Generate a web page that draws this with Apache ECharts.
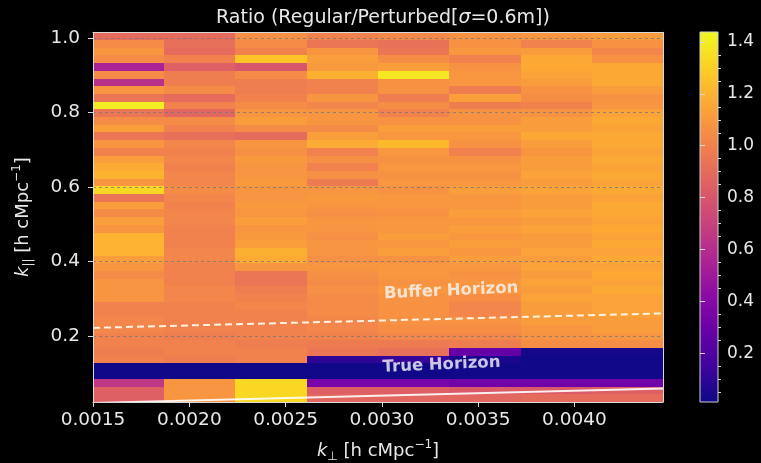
<!DOCTYPE html>
<html>
<head>
<meta charset="utf-8">
<script src="https://cdn.jsdelivr.net/npm/echarts@6/dist/echarts.min.js"></script>
<style>
  html, body { margin: 0; padding: 0; background: #000; }
  #chart { width: 761px; height: 463px; }
</style>
</head>
<body>
<div id="chart"></div>
<script>
// k_perp bin edges (8 columns) and k_parallel binning (48 rows)
const kPerpEdges = [0.0015, 0.00187, 0.00224, 0.00261, 0.00298, 0.00335, 0.00372, 0.00409, 0.00446];
const kParFirstEdge = 0.0225;
const kParBinWidth = 0.0207;
const kParBinCount = 48;

// Ratio per k_perp column, listed from the lowest k_parallel bin upwards
const ratioCol1 = [0.85, 0.85, 0.65, 0.02, 0.02, 1.00, 0.98, 1.00, 1.00, 1.02, 1.02, 1.00, 1.00, 1.08, 1.08, 1.08,
                   1.04, 1.08, 1.12, 1.20, 1.20, 1.20, 1.08, 1.12, 1.04, 1.12, 0.95, 1.33, 1.08, 1.20, 1.17, 1.12,
                   1.00, 1.08, 0.95, 1.12, 1.04, 0.95, 1.40, 0.95, 1.08, 0.62, 1.04, 0.55, 1.04, 1.08, 1.04, 0.90];
const ratioCol2 = [1.08, 1.08, 1.08, 0.02, 0.02, 0.98, 1.00, 1.00, 0.98, 1.00, 1.00, 1.00, 1.00, 1.02, 1.02, 1.00,
                   1.00, 1.00, 1.02, 1.02, 1.00, 1.00, 1.00, 1.02, 1.02, 1.00, 1.02, 1.04, 1.02, 1.02, 1.00, 1.02,
                   1.00, 1.02, 0.92, 1.00, 1.04, 0.88, 1.00, 0.90, 1.04, 0.98, 0.98, 0.85, 1.00, 0.90, 0.92, 0.90];
const ratioCol3 = [1.33, 1.33, 1.33, 0.02, 0.02, 1.00, 1.00, 0.98, 1.00, 1.00, 1.00, 1.00, 1.02, 1.00, 0.98, 0.95,
                   0.95, 1.08, 1.17, 1.19, 1.12, 1.10, 1.08, 1.12, 1.08, 1.10, 1.08, 1.08, 1.10, 1.08, 1.08, 1.10,
                   1.06, 1.08, 0.90, 1.04, 1.12, 1.08, 1.04, 1.00, 0.98, 0.98, 1.04, 0.80, 1.26, 1.00, 1.04, 1.06];
const ratioCol4 = [0.88, 0.85, 0.35, 0.02, 0.02, 0.10, 0.95, 0.97, 1.00, 1.02, 1.02, 1.04, 1.04, 1.04, 1.06, 1.04,
                   1.06, 1.08, 1.06, 1.08, 1.08, 1.06, 1.08, 1.08, 1.06, 1.08, 1.10, 1.08, 0.97, 1.06, 1.00, 1.06,
                   1.00, 1.17, 1.12, 1.04, 1.08, 1.08, 1.02, 1.08, 1.00, 1.00, 1.19, 1.10, 1.12, 1.08, 0.95, 1.00];
const ratioCol5 = [0.88, 0.85, 0.35, 0.02, 0.02, 0.12, 0.92, 0.97, 1.02, 1.05, 1.07, 1.07, 1.07, 1.07, 1.09, 1.07,
                   1.09, 1.09, 1.07, 1.12, 1.09, 1.12, 1.09, 1.09, 1.07, 1.09, 1.09, 1.07, 1.09, 1.07, 1.09, 1.07,
                   1.09, 1.22, 1.09, 1.12, 1.07, 1.00, 1.05, 0.98, 1.07, 1.07, 1.38, 1.12, 1.05, 0.95, 0.93, 1.03];
const ratioCol6 = [0.88, 0.82, 0.32, 0.02, 0.02, 0.05, 0.28, 0.98, 1.02, 1.05, 1.07, 1.02, 1.02, 1.05, 1.09, 1.09,
                   1.07, 1.09, 1.12, 1.09, 1.12, 1.09, 1.12, 1.09, 1.12, 1.09, 1.09, 1.12, 1.09, 1.07, 1.09, 1.07,
                   1.00, 1.07, 1.09, 1.12, 1.07, 1.07, 0.98, 1.12, 0.98, 1.09, 1.09, 1.07, 1.00, 1.09, 1.07, 1.07];
const ratioCol7 = [0.90, 0.82, 0.32, 0.02, 0.02, 0.02, 0.03, 1.05, 1.07, 1.08, 1.11, 1.11, 1.11, 1.14, 1.11, 1.14,
                   1.11, 1.14, 1.11, 1.14, 1.11, 1.11, 1.14, 1.11, 1.14, 1.11, 1.11, 1.14, 1.11, 1.14, 1.11, 1.11,
                   1.08, 1.11, 1.16, 1.11, 1.11, 1.07, 1.00, 1.05, 1.07, 1.11, 1.14, 1.16, 1.16, 1.11, 1.00, 1.08];
const ratioCol8 = [0.90, 0.85, 0.32, 0.02, 0.02, 0.02, 0.03, 1.05, 1.08, 1.11, 1.11, 1.14, 1.14, 1.14, 1.16, 1.14,
                   1.16, 1.14, 1.16, 1.14, 1.16, 1.14, 1.16, 1.14, 1.16, 1.16, 1.14, 1.16, 1.14, 1.16, 1.14, 1.16,
                   1.14, 1.16, 1.16, 1.14, 1.16, 1.14, 1.08, 1.07, 1.11, 1.16, 1.16, 1.16, 1.07, 1.02, 1.07, 1.11];
const ratioColumns = [ratioCol1, ratioCol2, ratioCol3, ratioCol4, ratioCol5, ratioCol6, ratioCol7, ratioCol8];

// Axis ticks
const xTicks = [0.0015, 0.0020, 0.0025, 0.0030, 0.0035, 0.0040];
const yTicks = [0.2, 0.4, 0.6, 0.8, 1.0];
const cbarTicks = [0.2, 0.4, 0.6, 0.8, 1.0, 1.2, 1.4];
const cbarMinorTicks = [0.05, 0.1, 0.15, 0.25, 0.3, 0.35, 0.45, 0.5, 0.55, 0.65, 0.7, 0.75,
                        0.85, 0.9, 0.95, 1.05, 1.1, 1.15, 1.25, 1.3, 1.35];
const colorMin = 0.012;
const colorMax = 1.4385;

// Horizon lines: [k_perp, k_parallel] end points
const trueHorizon = [[0.0015, 0.0197], [0.00446, 0.0587]];
const bufferHorizon = [[0.0015, 0.2215], [0.00446, 0.2605]];
const trueHorizonLabelAt = [0.00331, 0.1218];
const bufferHorizonLabelAt = [0.00336, 0.3207];

// matplotlib "plasma"
const plasma = ['#0d0887', '#41049d', '#6a00a8', '#8f0da4', '#b12a90', '#cc4778',
                '#e16462', '#f2844b', '#fca636', '#fcce25', '#f0f921'];

const kParEdges = [];
for (let i = 0; i <= kParBinCount; i++) kParEdges.push(+(kParFirstEdge + i * kParBinWidth).toFixed(5));

const cells = [];
ratioColumns.forEach((col, c) => {
  col.forEach((v, r) => {
    cells.push([kPerpEdges[c], kPerpEdges[c + 1], kParEdges[r], kParEdges[r + 1], v]);
  });
});

const textColor = '#e8e8e8';
const FONT = 'DejaVu Sans';
const spine = { show: true, onZero: false, lineStyle: { color: '#d8d8d8', width: 1 } };
const nameRich = {
  n: { fontFamily: FONT, fontSize: 18, color: textColor, lineHeight: 24 },
  i: { fontFamily: FONT, fontSize: 18, color: textColor, fontStyle: 'italic', lineHeight: 24 },
  sub: { fontFamily: FONT, fontSize: 12, color: textColor, verticalAlign: 'bottom', lineHeight: 12 },
  sup: { fontFamily: FONT, fontSize: 12, color: textColor, verticalAlign: 'top', lineHeight: 12 }
};

const chart = echarts.init(document.getElementById('chart'));
chart.setOption({
  backgroundColor: '#000',
  animation: false,
  textStyle: { fontFamily: FONT },
  title: {
    text: '{n|Ratio (Regular/Perturbed[}{i|σ}{n|=0.6m])}',
    left: 378,
    textAlign: 'center',
    top: 4,
    textStyle: {
      fontWeight: 'normal',
      rich: {
        n: { fontFamily: FONT, fontSize: 19, color: textColor, fontWeight: 'normal' },
        i: { fontFamily: FONT, fontSize: 19, color: textColor, fontWeight: 'normal', fontStyle: 'italic' }
      }
    }
  },
  grid: [
    { left: 93, top: 32.3, width: 570, height: 369.6, outerBoundsMode: 'none' },
    { left: 700, top: 32, width: 18, height: 370, outerBoundsMode: 'none' }
  ],
  visualMap: {
    show: false,
    type: 'continuous',
    seriesIndex: 0,
    dimension: 4,
    min: colorMin,
    max: colorMax,
    inRange: { color: plasma }
  },
  xAxis: [
    {
      type: 'value', gridIndex: 0, min: kPerpEdges[0], max: kPerpEdges[kPerpEdges.length - 1], z: 10,
      axisLine: spine,
      axisTick: { show: true, customValues: xTicks, length: 5, lineStyle: { color: '#d8d8d8' } },
      axisLabel: { customValues: xTicks, formatter: v => v.toFixed(4), color: textColor, fontSize: 18.5, margin: 9 },
      splitLine: { show: false },
      name: '{i|k}{sub|⊥}{n| [h cMpc}{sup|−1}{n|]}',
      nameLocation: 'middle',
      nameGap: 37,
      nameTextStyle: { color: textColor, rich: nameRich }
    },
    {
      type: 'value', gridIndex: 0, position: 'top', min: kPerpEdges[0], max: kPerpEdges[kPerpEdges.length - 1], z: 10,
      axisLine: spine, axisTick: { show: false }, axisLabel: { show: false }, splitLine: { show: false }
    },
    {
      type: 'value', gridIndex: 1, min: 0, max: 1, show: false
    }
  ],
  yAxis: [
    {
      type: 'value', gridIndex: 0, min: kParEdges[0], max: kParEdges[kParBinCount], z: 10,
      axisLine: spine,
      axisTick: { show: true, customValues: yTicks, length: 5, lineStyle: { color: '#d8d8d8' } },
      axisLabel: { customValues: yTicks, formatter: v => v.toFixed(1), color: textColor, fontSize: 18.5, margin: 13 },
      splitLine: { show: false },
      name: '{i|k}{sub|||}{n| [h cMpc}{sup|−1}{n|]}',
      nameLocation: 'middle',
      nameRotate: 90,
      nameGap: 58,
      nameTextStyle: { color: textColor, rich: nameRich }
    },
    {
      type: 'value', gridIndex: 0, position: 'right', min: kParEdges[0], max: kParEdges[kParBinCount], z: 10,
      axisLine: spine, axisTick: { show: false }, axisLabel: { show: false }, splitLine: { show: false }
    },
    {
      type: 'value', gridIndex: 1, position: 'right', min: colorMin, max: colorMax, z: 10,
      axisLine: { show: false },
      axisTick: { show: true, customValues: cbarTicks, length: 5, lineStyle: { color: '#d8d8d8' } },
      axisLabel: { customValues: cbarTicks, formatter: v => v.toFixed(1), color: textColor, fontSize: 17, margin: 9 },
      splitLine: { show: false }
    },
    {
      type: 'value', gridIndex: 1, position: 'right', min: colorMin, max: colorMax, z: 10,
      axisLine: { show: false },
      axisTick: { show: true, customValues: cbarMinorTicks, length: 3, lineStyle: { color: '#d8d8d8' } },
      axisLabel: { show: false },
      splitLine: { show: false }
    }
  ],
  series: [
    {
      // ratio cells
      type: 'custom',
      xAxisIndex: 0, yAxisIndex: 0,
      encode: { x: [0, 1], y: [2, 3] },
      data: cells,
      z: 2,
      silent: true,
      renderItem: function (params, api) {
        const tl = api.coord([api.value(0), api.value(3)]);
        const br = api.coord([api.value(1), api.value(2)]);
        const x0 = Math.round(tl[0]), y0 = Math.round(tl[1]);
        const x1 = Math.round(br[0]), y1 = Math.round(br[1]);
        return {
          type: 'rect',
          shape: { x: x0, y: y0, width: x1 - x0, height: y1 - y0 },
          style: { fill: api.visual('color') }
        };
      }
    },
    {
      // dashed grid drawn over the cells
      type: 'line',
      xAxisIndex: 0, yAxisIndex: 0,
      data: [],
      z: 4,
      markLine: {
        silent: true,
        symbol: ['none', 'none'],
        label: { show: false },
        lineStyle: { color: 'rgba(120,120,120,0.8)', type: [3, 3], width: 1 },
        data: xTicks.slice(1).map(v => ({ xAxis: v })).concat(yTicks.map(v => ({ yAxis: v })))
      }
    },
    {
      type: 'line',
      xAxisIndex: 0, yAxisIndex: 0,
      data: trueHorizon,
      showSymbol: false,
      clip: true,
      z: 6,
      silent: true,
      lineStyle: { color: 'rgba(255,255,255,0.9)', width: 2 }
    },
    {
      type: 'line',
      xAxisIndex: 0, yAxisIndex: 0,
      data: bufferHorizon,
      showSymbol: false,
      clip: true,
      z: 6,
      silent: true,
      lineStyle: { color: 'rgba(255,248,235,0.95)', width: 2, type: [7, 4] }
    },
    {
      type: 'scatter',
      xAxisIndex: 0, yAxisIndex: 0,
      symbolSize: 0,
      z: 7,
      silent: true,
      data: [
        { name: 'Buffer Horizon', value: bufferHorizonLabelAt },
        { name: 'True Horizon', value: trueHorizonLabelAt }
      ],
      label: {
        show: true,
        position: 'inside',
        formatter: '{b}',
        rotate: 2.5,
        color: '#f6f6f6',
        fontFamily: FONT,
        fontWeight: 'bold',
        fontSize: 16.5
      }
    },
    {
      // colour bar
      type: 'custom',
      xAxisIndex: 2, yAxisIndex: 2,
      encode: { x: [0, 1], y: [2, 3] },
      data: [[0, 1, colorMin, colorMax]],
      silent: true,
      renderItem: function (params, api) {
        const tl = api.coord([api.value(0), api.value(3)]);
        const br = api.coord([api.value(1), api.value(2)]);
        return {
          type: 'rect',
          shape: { x: tl[0], y: tl[1], width: br[0] - tl[0], height: br[1] - tl[1] },
          style: {
            fill: new echarts.graphic.LinearGradient(0, 1, 0, 0,
              plasma.map((c, i) => ({ offset: i / (plasma.length - 1), color: c }))),
            stroke: '#cfcfcf',
            lineWidth: 1
          }
        };
      }
    }
  ]
});
</script>
</body>
</html>
